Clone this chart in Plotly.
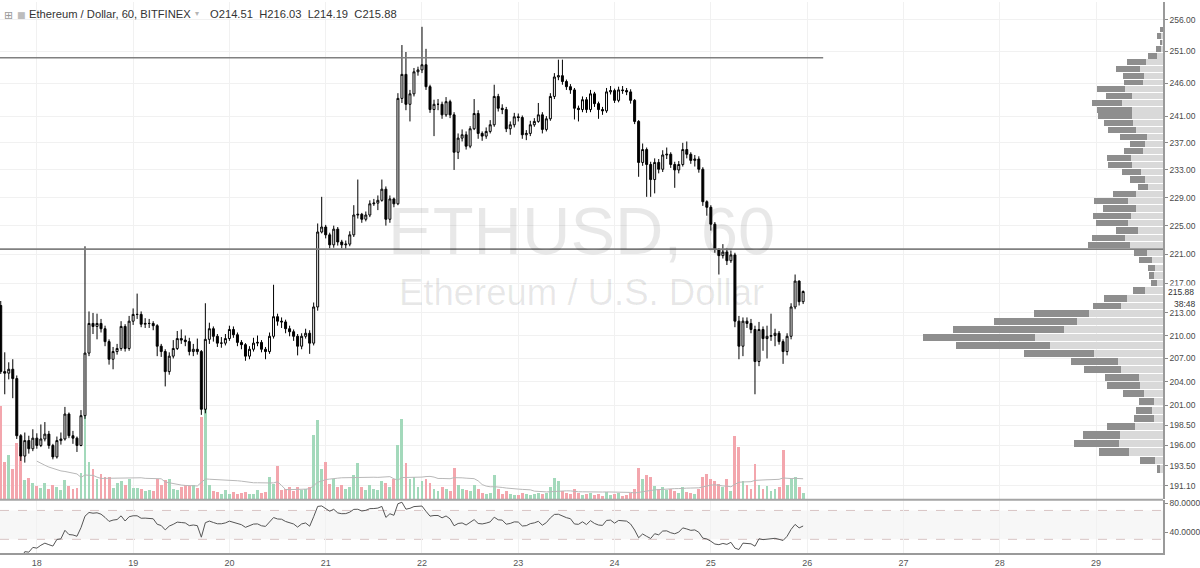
import numpy as np
import pandas as pd
import plotly.graph_objects as go

# ---------------- data ----------------
first_open = 214.0
closes = [205.3, 205.1, 205.6, 204.4, 197.2, 194.7, 196.6, 195.6, 196.9, 196.0,
          196.8, 197.4, 196.0, 194.6, 196.6, 196.8, 199.9, 197.2, 196.9, 196.0,
          199.7, 207.7, 211.6, 211.2, 211.6, 210.9, 209.2, 206.9, 207.9, 208.3,
          211.2, 208.3, 211.9, 212.8, 212.8, 211.5, 211.6, 211.6, 211.3, 208.6,
          207.9, 205.3, 207.3, 208.3, 209.6, 209.4, 209.2, 207.9, 208.2, 207.9,
          200.5, 209.5, 210.9, 209.9, 209.0, 209.0, 209.6, 210.8, 210.1, 209.1,
          208.8, 207.3, 208.2, 209.0, 209.1, 208.2, 207.9, 209.9, 212.5, 211.9,
          211.8, 210.9, 210.5, 209.9, 208.6, 209.9, 210.3, 209.0, 213.8, 224.1,
          224.8, 223.7, 222.3, 224.5, 222.7, 222.3, 222.4, 223.7, 226.5, 226.6,
          225.9, 226.5, 228.1, 228.2, 228.6, 230.2, 225.9, 228.8, 228.1, 243.7,
          247.4, 242.8, 244.4, 247.8, 248.1, 248.9, 245.5, 242.0, 242.8, 242.8,
          241.2, 243.2, 241.2, 235.6, 237.7, 238.2, 236.5, 239.1, 241.4, 238.4,
          238.0, 238.7, 239.7, 244.0, 242.2, 242.0, 239.1, 239.7, 240.9, 240.8,
          238.2, 238.4, 239.7, 240.2, 241.2, 239.0, 240.6, 244.0, 247.0, 247.2,
          246.3, 245.5, 245.0, 242.2, 242.0, 243.5, 242.0, 244.4, 242.9, 242.0,
          241.8, 244.7, 244.9, 243.4, 245.0, 244.9, 244.7, 243.4, 240.2, 234.1,
          236.0, 233.8, 231.6, 234.1, 233.1, 235.2, 235.3, 233.8, 233.0, 233.8,
          236.0, 235.3, 234.4, 234.6, 233.1, 228.4, 227.6, 225.2, 221.7, 220.8,
          221.3, 220.1, 220.9, 211.9, 208.6, 211.9, 211.6, 210.8, 206.6, 210.8,
          209.6, 209.9, 210.0, 210.3, 209.2, 207.9, 209.9, 213.8, 217.3, 214.51,
          215.88]
highs = [214.6, 207.8, 206.5, 206.9, 204.8, 197.4, 197.6, 197.2, 198.0, 197.5,
         198.6, 198.9, 197.8, 196.2, 197.1, 197.6, 200.8, 200.1, 197.8, 197.1,
         200.4, 222.1, 213.2, 213.0, 212.9, 212.2, 211.3, 209.5, 208.5, 208.9,
         211.9, 211.5, 212.6, 213.6, 215.6, 213.2, 212.3, 212.2, 211.9, 211.5,
         208.9, 208.2, 207.8, 209.4, 210.6, 210.8, 210.0, 209.7, 208.9, 209.6,
         208.1, 214.3, 211.7, 211.2, 210.2, 209.8, 210.2, 211.3, 211.2, 210.4,
         209.4, 209.0, 208.6, 209.7, 210.0, 209.4, 208.5, 210.4, 216.8, 212.9,
         212.4, 212.1, 211.3, 210.8, 210.2, 210.3, 210.9, 210.7, 214.4, 225.3,
         229.1, 225.1, 224.0, 225.0, 224.8, 223.0, 222.9, 224.2, 227.9, 231.6,
         226.8, 227.0, 228.6, 228.8, 229.3, 231.6, 230.6, 229.3, 229.0, 244.5,
         252.0, 250.9, 245.0, 248.4, 248.6, 254.9, 251.4, 245.8, 243.5, 243.6,
         243.2, 243.9, 243.5, 241.6, 238.4, 239.0, 238.7, 239.5, 243.6, 241.9,
         238.7, 239.3, 240.4, 245.8, 244.4, 242.8, 242.4, 240.2, 241.5, 241.4,
         241.1, 238.9, 240.3, 240.7, 243.0, 241.6, 241.0, 244.5, 247.6, 249.7,
         249.7, 246.6, 245.9, 245.3, 242.6, 244.0, 243.9, 245.0, 244.7, 243.2,
         242.4, 245.3, 245.6, 245.2, 245.5, 245.6, 245.3, 245.1, 243.6, 240.4,
         236.9, 236.3, 234.2, 234.7, 234.6, 235.9, 236.3, 235.6, 234.2, 234.3,
         237.0, 237.2, 235.6, 235.2, 235.0, 233.4, 228.6, 227.9, 225.5, 221.8,
         222.4, 221.8, 221.5, 221.2, 212.6, 212.4, 212.4, 212.2, 211.3, 211.8,
         211.2, 211.3, 212.9, 210.9, 210.6, 209.5, 210.3, 214.3, 218.2, 217.4,
         216.03]
lows = [205.0, 202.4, 204.3, 201.9, 196.8, 194.1, 193.9, 195.0, 195.3, 195.6,
        195.8, 196.5, 195.6, 194.3, 194.4, 196.1, 196.6, 196.9, 196.2, 195.2,
        195.9, 199.3, 207.3, 210.2, 209.5, 210.4, 208.6, 206.2, 205.6, 207.5,
        208.0, 207.9, 208.0, 211.4, 212.2, 211.1, 211.0, 211.0, 210.7, 207.3,
        207.2, 203.4, 204.9, 207.0, 208.1, 208.9, 208.6, 207.4, 207.3, 207.5,
        199.8, 200.0, 208.9, 209.2, 208.5, 208.4, 208.7, 209.3, 209.7, 208.6,
        208.2, 206.7, 206.9, 207.9, 208.6, 207.8, 206.9, 207.6, 209.6, 211.3,
        211.0, 210.3, 209.9, 209.3, 207.4, 208.2, 209.6, 207.6, 208.7, 213.3,
        223.9, 223.2, 221.8, 221.9, 222.2, 221.8, 221.7, 222.1, 223.4, 226.0,
        225.4, 225.6, 226.2, 227.8, 227.2, 228.4, 225.0, 225.4, 227.6, 227.9,
        243.0, 241.9, 240.2, 244.0, 247.2, 247.6, 245.0, 241.5, 238.0, 241.9,
        240.6, 240.9, 240.7, 233.0, 234.6, 237.2, 236.0, 236.2, 238.9, 237.6,
        237.3, 237.6, 238.4, 239.4, 241.7, 241.3, 238.6, 238.2, 239.3, 240.2,
        237.6, 237.4, 238.0, 239.4, 240.0, 238.4, 238.7, 240.3, 243.6, 246.5,
        245.8, 245.0, 244.4, 240.5, 240.2, 241.6, 241.5, 241.6, 242.4, 240.6,
        241.2, 241.5, 244.3, 243.0, 243.1, 244.4, 244.2, 242.9, 239.8, 232.0,
        233.6, 229.1, 229.1, 229.6, 232.5, 232.7, 234.6, 233.3, 230.4, 232.5,
        233.5, 234.7, 233.9, 233.5, 232.6, 227.8, 226.4, 224.3, 221.2, 218.2,
        220.4, 219.5, 219.8, 211.1, 206.9, 207.3, 211.0, 210.3, 202.4, 206.0,
        208.0, 207.0, 209.3, 208.6, 208.8, 206.3, 207.4, 209.5, 213.5, 214.0,
        214.19]
volumes = [94, 37, 44, 30, 56, 52, 19, 21, 16, 13, 11, 16, 10, 14, 12, 9, 19, 13, 10, 11,
           26, 84, 37, 30, 20, 25, 22, 22, 11, 16, 18, 14, 20, 11, 11, 10, 8, 9, 8, 20,
           14, 19, 20, 10, 9, 12, 14, 13, 14, 11, 82, 92, 14, 8, 7, 5, 9, 5, 7, 5,
           6, 7, 5, 5, 9, 6, 7, 22, 15, 33, 9, 10, 12, 8, 12, 9, 10, 12, 64, 79,
           30, 37, 15, 20, 12, 14, 10, 12, 24, 36, 12, 9, 14, 10, 9, 18, 16, 12, 20, 54,
           80, 36, 20, 22, 12, 18, 20, 16, 10, 8, 12, 10, 8, 31, 14, 10, 9, 8, 14, 10,
           6, 5, 6, 24, 10, 5, 8, 5, 4, 4, 6, 5, 4, 5, 6, 5, 6, 12, 21, 18,
           8, 6, 5, 10, 6, 4, 5, 6, 4, 5, 3, 7, 4, 5, 6, 3, 4, 6, 10, 31,
           20, 24, 22, 13, 10, 12, 9, 10, 8, 6, 12, 7, 6, 5, 10, 22, 25, 20, 18, 15,
           12, 20, 8, 63, 52, 18, 14, 10, 35, 14, 10, 13, 8, 10, 12, 49, 14, 20, 22, 12,
           6]

# volume profile (visible range), rows listed top -> bottom
vp_top = 255.0
vp_row = 1.04
vp_dark = [2.5, 4.3, 1.3, 4.3, 9.3, 18.7, 24, 21.3, 18.7, 27.7,
           26.7, 30.3, 35.7, 34.7, 28.7, 28.7, 27, 15, 18.7, 24.3,
           24.7, 19.3, 15, 10.3, 23.7, 34.3, 33.3, 38, 32.3, 22.7,
           33.3, 42.3, 13.3, 13,
           7.3, 5.7, 6, 11.7, 23.3, 28.3, 56, 83.3, 112, 112, 94.3, 70.7, 47, 36.7, 34, 32.7, 21.3,
           15, 16, 20, 28, 37, 45, 30, 15, 3]
vp_light = [0.5, 1.7, 1, 2.4, 5.7, 17.3, 23, 18.7, 20, 38.3,
            31, 40.7, 31, 31, 30.3, 26.7, 16, 18, 20, 32.3,
            31, 22.3, 17.7, 15.3, 26.7, 35, 26.7, 32.3, 35, 25,
            38.3, 32.7, 15.7, 11,
            7.7, 8.6, 6.3, 18.3, 35.7, 41.7, 74, 86.7, 99, 129, 113.7, 69.3, 45, 42.3, 24, 23.3, 18.7,
            9, 11, 9, 28, 43, 44, 34, 8, 3]

price_ticks = [256.0, 251.0, 246.0, 241.0, 237.0, 233.0, 229.0, 225.0, 221.0, 217.0,
               213.0, 210.0, 207.0, 204.0, 201.0, 198.5, 196.0, 193.5, 191.1]
rsi_ticks = [80, 40]
levels = [250.0, 221.7]
level_ends = ["2017-08-26 04:00", "2017-08-30 00:00"]
last_price = 215.88

start = pd.Timestamp("2017-08-17 15:00")
times = pd.date_range(start, periods=len(closes), freq="h")
opens = [first_open] + closes[:-1]

# indicators derived from the series
cl = pd.Series([first_open] + closes)
delta = cl.diff().iloc[1:]
gain = delta.clip(lower=0).ewm(alpha=1 / 14, adjust=True).mean()
loss = (-delta.clip(upper=0)).ewm(alpha=1 / 14, adjust=True).mean()
rsi = (100 * gain / (gain + loss)).values
vol_ma = pd.Series(volumes).rolling(20, min_periods=10).mean().values

GREEN = "#a3d9bb"
RED = "#f3a6ad"
vol_colors = [GREEN if c >= o else RED for o, c in zip(opens, closes)]

vp_centers = [vp_top - vp_row * (i + 0.5) for i in range(len(vp_dark))]

FONT = "Liberation Sans, Arial, sans-serif"
fig = go.Figure()

# volume bars + MA (base y axis)
fig.add_trace(go.Bar(x=times, y=volumes, marker=dict(color=vol_colors, line=dict(width=0)),
                     width=3600000 * 0.72, xaxis="x", yaxis="y", showlegend=False))
fig.add_trace(go.Scatter(x=times, y=vol_ma, mode="lines", line=dict(color="#b8b8b8", width=1),
                         xaxis="x", yaxis="y", showlegend=False))

# horizontal levels
for lv, end in zip(levels, level_ends):
    fig.add_trace(go.Scatter(x=["2017-08-17 00:00", end], y=[lv, lv], mode="lines",
                             line=dict(color="#808080", width=1.6), xaxis="x", yaxis="y2",
                             showlegend=False, hoverinfo="skip"))

# candles
fig.add_trace(go.Candlestick(x=times, open=opens, high=highs, low=lows, close=closes,
                             increasing=dict(line=dict(color="#000000", width=1), fillcolor="#ffffff"),
                             decreasing=dict(line=dict(color="#000000", width=1), fillcolor="#000000"),
                             whiskerwidth=0, xaxis="x", yaxis="y2", showlegend=False))

# volume profile
fig.add_trace(go.Bar(y=vp_centers, x=vp_light, orientation="h", width=vp_row * 0.86,
                     marker=dict(color="#d9d9d9", line=dict(width=0)), xaxis="x3", yaxis="y2",
                     showlegend=False))
fig.add_trace(go.Bar(y=vp_centers, x=vp_dark, orientation="h", width=vp_row * 0.86,
                     marker=dict(color="#8e8e8e", line=dict(width=0)), xaxis="x3", yaxis="y2",
                     showlegend=False))

# RSI
fig.add_trace(go.Scatter(x=times, y=rsi, mode="lines", line=dict(color="#555555", width=1),
                         xaxis="x2", yaxis="y3", showlegend=False))

top_main = 54 / 553
fig.update_layout(
    width=1200, height=568, autosize=False,
    margin=dict(l=0, r=32, t=0, b=15),
    paper_bgcolor="white", plot_bgcolor="white",
    barmode="stack", bargap=0,
    font=dict(family=FONT, color="#4a4a4a", size=9),
    xaxis=dict(type="date", domain=[0, 1], anchor="y",
               range=["2017-08-17 14:49", "2017-08-29 16:42"],
               rangeslider=dict(visible=False), showticklabels=False,
               showgrid=True, gridcolor="#f1f1f1", gridwidth=1,
               dtick=86400000, tick0="2017-08-18", zeroline=False, fixedrange=True),
    xaxis2=dict(type="date", domain=[0, 1], anchor="y3", matches="x",
                showgrid=True, gridcolor="#f1f1f1", dtick=86400000, tick0="2017-08-18",
                tickformat="%-d", ticks="", tickfont=dict(size=9, color="#555555"),
                showline=True, linecolor="#9a9a9a", linewidth=1.5, zeroline=False),
    xaxis3=dict(overlaying="x", anchor="y2", range=[1168, 0], visible=False, fixedrange=True),
    yaxis=dict(domain=[top_main, 1], range=[0, 499], visible=False, fixedrange=True),
    yaxis2=dict(overlaying="y", type="log", side="right", anchor="x",
                range=[np.log10(189.5), np.log10(258.9)],
                tickmode="array", tickvals=price_ticks,
                ticktext=[f"{v:.2f}" for v in price_ticks],
                tickfont=dict(size=8.5, color="#4a4a4a"),
                ticks="outside", ticklen=3, tickcolor="#8a8a8a",
                showgrid=True, gridcolor="#f1f1f1",
                showline=True, linecolor="#9a9a9a", linewidth=1.5, zeroline=False),
    yaxis3=dict(domain=[0, 53 / 553], anchor="x2", side="right", range=[11.1, 84.2],
                tickmode="array", tickvals=rsi_ticks, ticktext=[f"{v:.4f}" for v in rsi_ticks],
                tickfont=dict(size=8.5, color="#4a4a4a"), ticks="outside", ticklen=3,
                tickcolor="#8a8a8a", showgrid=False, showline=True, linecolor="#9a9a9a",
                linewidth=1.5, zeroline=False),
)

shapes = [
    dict(type="rect", xref="paper", yref="y3", x0=0, x1=1, y0=30, y1=70,
         fillcolor="#f7f7f7", line=dict(width=0), layer="below"),
    dict(type="line", xref="paper", yref="y3", x0=0, x1=1, y0=70, y1=70,
         line=dict(color="#d8c4c4", width=1, dash="dash"), layer="below"),
    dict(type="line", xref="paper", yref="y3", x0=0, x1=1, y0=30, y1=30,
         line=dict(color="#d8c4c4", width=1, dash="dash"), layer="below"),
    dict(type="line", xref="paper", yref="paper", x0=0, x1=1, y0=53.5 / 553, y1=53.5 / 553,
         line=dict(color="#a5a5a5", width=2)),
]
fig.update_layout(shapes=shapes)

ann = [
    # watermark
    dict(text="ETHUSD, 60", xref="paper", yref="paper", x=0.5, y=(553 - 229) / 553,
         showarrow=False, font=dict(size=67, color="rgba(0,0,0,0.09)", family=FONT),
         xanchor="center", yanchor="middle"),
    dict(text="Ethereum / U.S. Dollar", xref="paper", yref="paper", x=0.5, y=(553 - 292) / 553,
         showarrow=False, font=dict(size=36.5, color="rgba(0,0,0,0.09)", family=FONT),
         xanchor="center", yanchor="middle"),
    # header
    dict(text="⊞", xref="paper", yref="paper", x=0, y=1, xshift=2, yshift=-5,
         xanchor="left", yanchor="top", showarrow=False, font=dict(size=11, color="#9a9a9a", family="DejaVu Sans")),
    dict(text="■", xref="paper", yref="paper", x=0, y=1, xshift=15, yshift=-6,
         xanchor="left", yanchor="top", showarrow=False, font=dict(size=9, color="#bdbdbd", family="DejaVu Sans")),
    dict(text="Ethereum / Dollar, 60, BITFINEX", xref="paper", yref="paper", x=0, y=1,
         xshift=27, yshift=-4, xanchor="left", yanchor="top", showarrow=False,
         font=dict(size=11.2, color="#333333", family=FONT)),
    dict(text="▾", xref="paper", yref="paper", x=0, y=1, xshift=193, yshift=-5,
         xanchor="left", yanchor="top", showarrow=False, font=dict(size=8, color="#b5b5b5", family="DejaVu Sans")),
    dict(text="O214.51&nbsp;&nbsp;H216.03&nbsp;&nbsp;L214.19&nbsp;&nbsp;C215.88", xref="paper", yref="paper",
         x=0, y=1, xshift=208, yshift=-4, xanchor="left", yanchor="top", showarrow=False,
         font=dict(size=11.2, color="#333333", family=FONT)),
    # last price tag
    dict(text=f"{last_price:.2f}", xref="paper", yref="y2", x=1, y=np.log10(last_price),
         xanchor="left", yanchor="middle", xshift=3, showarrow=False, bgcolor="white",
         borderpad=1, font=dict(size=8.5, color="#333333", family=FONT)),
    dict(text="38:48", xref="paper", yref="y2", x=1, y=np.log10(last_price),
         xanchor="left", yanchor="middle", xshift=9, yshift=-12, showarrow=False,
         font=dict(size=8.5, color="#333333", family=FONT)),
]
fig.update_layout(annotations=ann)

fig.write_html("out.html", config={"displayModeBar": False},
               post_script="document.body.style.margin='0px';document.body.style.overflow='hidden';")
